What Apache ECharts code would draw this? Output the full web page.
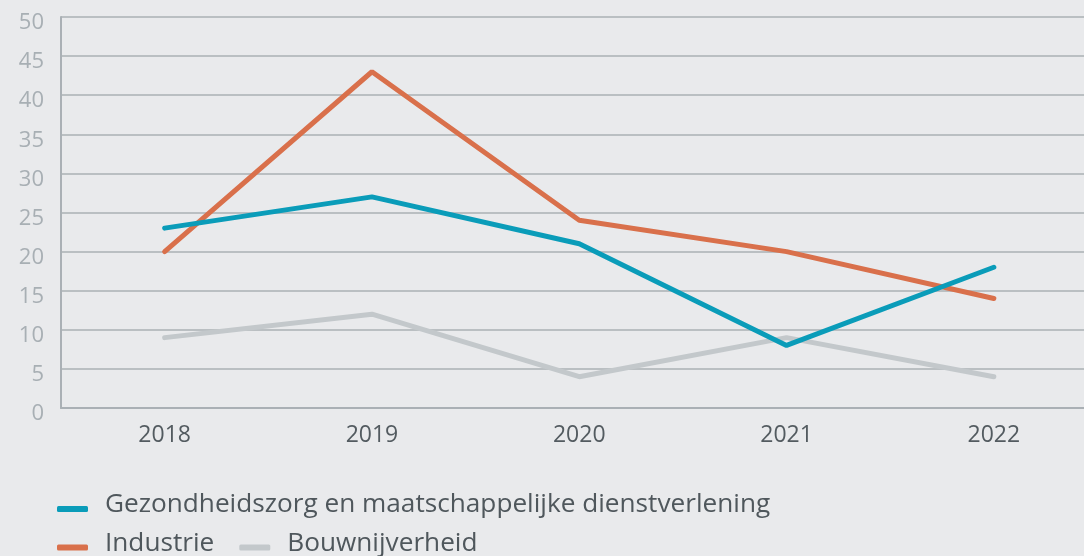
<!DOCTYPE html>
<html><head><meta charset="utf-8">
<script src="https://cdn.jsdelivr.net/npm/echarts@6/dist/echarts.min.js"></script>
<style>html,body{margin:0;padding:0;background:#e9eaec;}#c{width:1084px;height:556px;}</style>
</head><body><div id="c"></div>
<script>
const categories = ['2018','2019','2020','2021','2022'];
const gezondheidszorg = [23, 27, 21, 8, 18];
const industrie = [20, 43, 24, 20, 14];
const bouwnijverheid = [9, 12, 4, 9, 4];
const seriesNames = ['Gezondheidszorg en maatschappelijke dienstverlening','Industrie','Bouwnijverheid'];
const colors = ['#0a9cb9','#d9704b','#c3c8cb'];
const font = '"Open Sans", Lato, sans-serif';
const chart = echarts.init(document.getElementById('c'));
const mk = (name, data, color) => ({
  name, type: 'line', data, symbol: 'none', smooth: false,
  lineStyle: {width: 5, color, cap: 'round'}, itemStyle: {color}
});
const legendText = {
  fontSize: 26.2, color: '#4f575c', fontFamily: font,
  rich: {t: {fontSize: 26.2, color: '#4f575c', fontFamily: font, lineHeight: 30, padding: [0, 0, 8, 12]}}
};
const legendFmt = name => '{t|' + name + '}';
chart.setOption({
  backgroundColor: '#e9eaec',
  animation: false,
  textStyle: {fontFamily: font},
  grid: {left: 61, right: -13.5, top: 17, bottom: 148, outerBoundsMode: 'none'},
  legend: [{
    data: [seriesNames[0]], left: 57, top: 492, padding: 0, itemWidth: 31, itemHeight: 6, itemGap: 25,
    icon: 'roundRect', textStyle: legendText, formatter: legendFmt
  },{
    data: [seriesNames[1], seriesNames[2]], left: 57, top: 530.5, padding: 0, itemWidth: 31, itemHeight: 6, itemGap: 25,
    icon: 'roundRect', textStyle: legendText, formatter: legendFmt
  }],
  xAxis: {
    type: 'category', data: categories, boundaryGap: true,
    axisLine: {lineStyle: {color: '#aab0b5', width: 2}},
    axisTick: {show: false},
    axisLabel: {fontSize: 23, color: '#535b60', margin: 16, fontFamily: font}
  },
  yAxis: {
    type: 'value', min: 0, max: 50, interval: 5,
    axisLine: {show: true, lineStyle: {color: '#aab0b5', width: 2}},
    axisTick: {show: false},
    splitLine: {lineStyle: {color: '#aab0b5', width: 1.5}},
    axisLabel: {fontSize: 22, color: '#a8afb4', margin: 17, verticalAlign: 'top', lineHeight: 12, fontFamily: font}
  },
  series: [
    mk(seriesNames[2], bouwnijverheid, colors[2]),
    mk(seriesNames[1], industrie, colors[1]),
    mk(seriesNames[0], gezondheidszorg, colors[0])
  ]
});
</script></body></html>
